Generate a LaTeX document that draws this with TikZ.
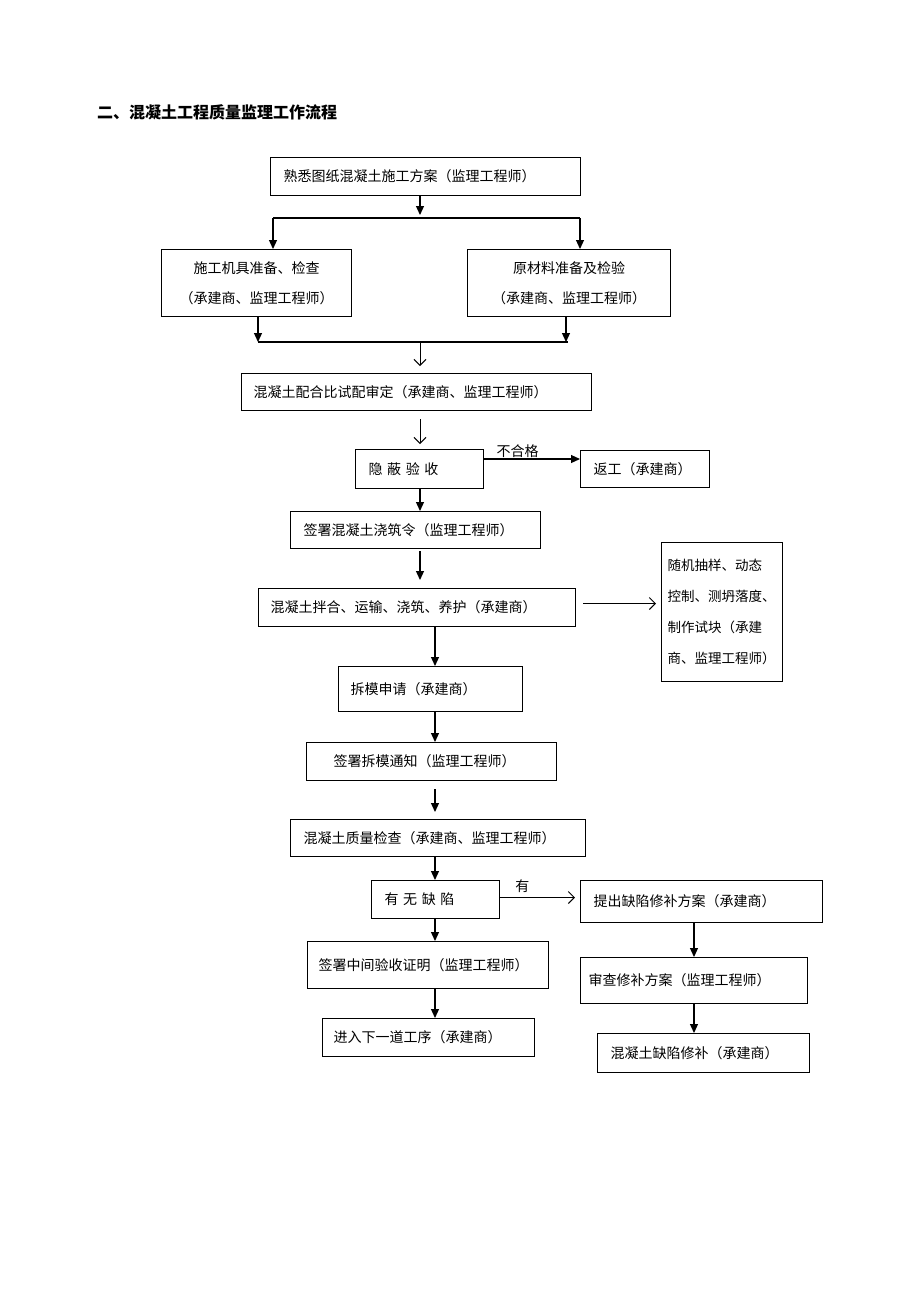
\documentclass[tikz,border=0pt]{standalone}
\usepackage{fontspec}
\newfontfamily\zhfont{Noto Sans CJK SC}
\usetikzlibrary{arrows.meta}
\begin{document}
\begin{tikzpicture}[x=1pt,y=-1pt,
  stepbox/.style={draw, line width=1pt, anchor=north west, align=left, inner ysep=0pt,
    font=\zhfont\fontsize{14}{16}\selectfont},
  arr/.style={-{Triangle[length=9pt,width=8pt]}, line width=1.2pt},
  barb/.style={-{Straight Barb[length=6pt,width=12pt]}, line width=1pt},
  lab/.style={font=\zhfont\fontsize{14}{16}\selectfont, inner sep=1pt}]
\useasboundingbox (0,0) rectangle (920,1302);
\node[anchor=west, inner sep=0pt, font=\zhfont\bfseries\fontsize{16}{18}\selectfont] (title) at (97,112) {二、混凝土工程质量监理工作流程};

\node[stepbox, text width=284pt, inner xsep=13pt, minimum height=38pt] (s1) at (270,157) {熟悉图纸混凝土施工方案（监理工程师）};
\node[stepbox, text width=170pt, inner xsep=10pt, minimum height=67pt, align=center, font=\zhfont\fontsize{14}{30}\selectfont] (s2) at (161,249) {施工机具准备、检查\\（承建商、监理工程师）};
\node[stepbox, text width=183pt, inner xsep=10pt, minimum height=67pt, align=center, font=\zhfont\fontsize{14}{30}\selectfont] (s3) at (467,249) {原材料准备及检验\\（承建商、监理工程师）};
\node[stepbox, text width=326pt, inner xsep=12pt, minimum height=37pt] (s4) at (241,373) {混凝土配合比试配审定（承建商、监理工程师）};
\node[stepbox, text width=102pt, inner xsep=13pt, minimum height=39pt] (s5) at (355,449) {隐 蔽 验 收};
\node[stepbox, text width=103pt, inner xsep=13pt, minimum height=37pt] (s6) at (580,450) {返工（承建商）};
\node[stepbox, text width=224pt, inner xsep=13pt, minimum height=37pt] (s7) at (290,511) {签署混凝土浇筑令（监理工程师）};
\node[stepbox, text width=293pt, inner xsep=12pt, minimum height=38pt] (s8) at (258,588) {混凝土拌合、运输、浇筑、养护（承建商）};
\node[stepbox, text width=109pt, inner xsep=6pt, minimum height=139pt, font=\zhfont\fontsize{13.5}{31}\selectfont] (s9) at (661,542) {随机抽样、动态\\控制、测坍落度、\\制作试块（承建\\商、监理工程师）};
\node[stepbox, text width=160pt, inner xsep=12pt, minimum height=45pt] (s10) at (338,666) {拆模申请（承建商）};
\node[stepbox, text width=196pt, inner xsep=27pt, minimum height=38pt] (s11) at (306,742) {签署拆模通知（监理工程师）};
\node[stepbox, text width=269pt, inner xsep=13pt, minimum height=37pt] (s12) at (290,819) {混凝土质量检查（承建商、监理工程师）};
\node[stepbox, text width=102pt, inner xsep=13pt, minimum height=38pt] (s13) at (371,880) {有 无 缺 陷};
\node[stepbox, text width=216pt, inner xsep=13pt, minimum height=42pt] (s14) at (580,880) {提出缺陷修补方案（承建商）};
\node[stepbox, text width=219pt, inner xsep=11pt, minimum height=47pt] (s15) at (307,941) {签署中间验收证明（监理工程师）};
\node[stepbox, text width=190pt, inner xsep=11pt, minimum height=38pt] (s16) at (322,1018) {进入下一道工序（承建商）};
\node[stepbox, text width=211pt, inner xsep=8pt, minimum height=46pt] (s17) at (580,957) {审查修补方案（监理工程师）};
\node[stepbox, text width=186pt, inner xsep=13pt, minimum height=39pt] (s18) at (597,1033) {混凝土缺陷修补（承建商）};

\coordinate (c1) at (420,0);
\coordinate (c2) at (435,0);
\coordinate (c3) at (694,0);
\coordinate (fork) at (420,218);
\coordinate (forkL) at (273,218);
\coordinate (forkR) at (580,218);
\coordinate (join) at (420,342);
\coordinate (joinL) at (258,342);
\coordinate (joinR) at (566,342);

\draw[arr] (s1.south -| fork) -- ([yshift=3pt]fork);
\draw[line width=1.2pt] (forkL) -- (forkR);
\draw[arr] (forkL) -- (forkL |- s2.north);
\draw[arr] (forkR) -- (forkR |- s3.north);
\draw[arr] (s2.south -| joinL) -- (joinL);
\draw[arr] (s3.south -| joinR) -- (joinR);
\draw[line width=1.2pt] (joinL) -- ([xshift=2pt]joinR);
\draw[barb] (join) -- ([yshift=7pt]s4.north -| join);
\draw[barb, shorten <=8pt, shorten >=5pt] (s4.south -| c1) -- (s5.north -| c1);
\draw[arr] ([yshift=10pt]s5.east) -- ([yshift=10pt]s5.east -| s6.west) node[lab, pos=0.35, above] {不合格};
\draw[arr] (s5.south -| c1) -- (s7.north -| c1);
\draw[arr, shorten <=2pt] (s7.south -| c1) -- ([yshift=8pt]s8.north -| c1);
\draw[barb, shorten <=7pt, shorten >=5pt] ([yshift=4pt]s8.east) -- ([yshift=4pt]s8.east -| s9.west);
\draw[arr] (s8.south -| c2) -- (s10.north -| c2);
\draw[arr] (s10.south -| c2) -- (s11.north -| c2);
\draw[arr, shorten <=8pt] (s11.south -| c2) -- ([yshift=7pt]s12.north -| c2);
\draw[arr] (s12.south -| c2) -- (s13.north -| c2);
\draw[barb, shorten >=5pt] ([yshift=2pt]s13.east) -- ([yshift=2pt]s13.east -| s14.west) node[lab, pos=0.28, above=3pt] {有};
\draw[arr] (s13.south -| c2) -- (s15.north -| c2);
\draw[arr] (s15.south -| c2) -- (s16.north -| c2);
\draw[arr] (s14.south -| c3) -- (s17.north -| c3);
\draw[arr] (s17.south -| c3) -- (s18.north -| c3);
\end{tikzpicture}
\end{document}
